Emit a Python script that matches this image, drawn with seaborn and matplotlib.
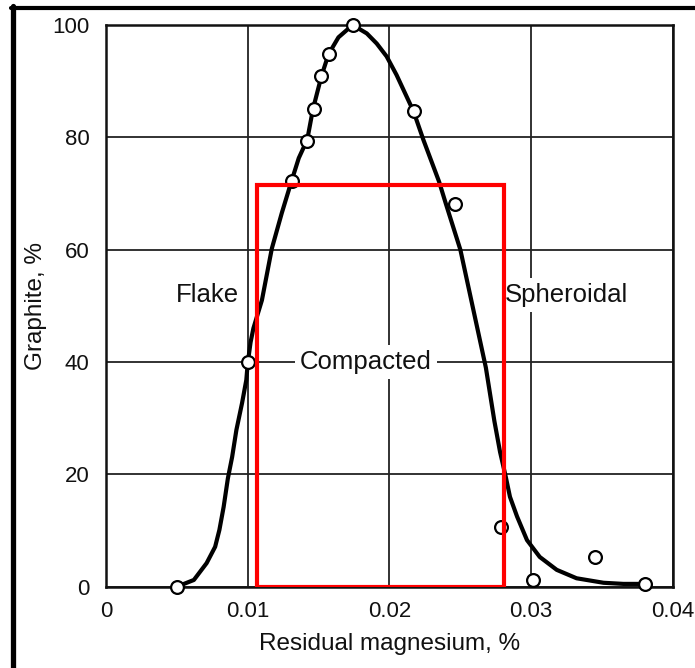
import matplotlib
matplotlib.use("Agg")
import matplotlib.pyplot as plt
import seaborn as sns
import pandas as pd
from matplotlib.lines import Line2D
from matplotlib.patches import Rectangle

# ---- data ----
point_mg = [0.0050, 0.0100, 0.0131, 0.0142, 0.0147, 0.0152, 0.0157, 0.0174,
            0.0217, 0.0246, 0.0279, 0.0301, 0.0345, 0.0380]
point_graphite = [0.0, 40.0, 72.2, 79.3, 85.0, 90.9, 94.8, 100.0,
                  84.6, 68.1, 10.6, 1.2, 5.2, 0.5]

curve_mg = [0.0050, 0.0062, 0.0071, 0.0077, 0.0080, 0.0083, 0.0086, 0.0089,
            0.0092, 0.0096, 0.0099, 0.0100, 0.0102, 0.0104, 0.0110, 0.0117,
            0.0124, 0.0131, 0.0136, 0.0142, 0.0146, 0.0152, 0.0157, 0.0164,
            0.0174, 0.0184, 0.0191, 0.0198, 0.0205, 0.0217, 0.0224, 0.0235,
            0.0240, 0.0250, 0.0256, 0.0262, 0.0268, 0.0274, 0.0278, 0.0282,
            0.0285, 0.0290, 0.0297, 0.0306, 0.0318, 0.0332, 0.0351, 0.0365,
            0.0379]
curve_graphite = [0.0, 1.2, 4.2, 7.1, 10.1, 14.2, 19.3, 23.1,
                  27.9, 32.7, 36.8, 39.8, 43.5, 46.0, 51.0, 60.2,
                  66.5, 72.3, 76.3, 79.6, 85.0, 90.9, 94.8, 97.8,
                  100.0, 98.5, 96.7, 94.4, 91.1, 84.6, 79.5, 72.1,
                  68.0, 60.0, 53.0, 46.0, 39.0, 29.5, 24.0, 19.6,
                  16.0, 12.5, 8.3, 5.3, 3.0, 1.5, 0.7, 0.5,
                  0.5]

compacted_range = [0.01067, 0.02808]
compacted_top = 71.6

x_ticks = [0.0, 0.01, 0.02, 0.03, 0.04]
x_tick_labels = ["0", "0.01", "0.02", "0.03", "0.04"]
y_ticks = [0, 20, 40, 60, 80, 100]
y_tick_labels = ["0", "20", "40", "60", "80", "100"]

region_labels = ["Flake", "Compacted", "Spheroidal"]
region_x = [0.00713, 0.01834, 0.0325]
region_y = [51.9, 40.0, 51.9]

# ---- styling ----
sns.set_style("white")
plt.rcParams["font.family"] = ["Liberation Sans", "DejaVu Sans"]
narrow = ["Liberation Sans Narrow", "DejaVu Sans Condensed", "Liberation Sans"]

fig = plt.figure(figsize=(6.95, 6.68), dpi=100)
ax = fig.add_axes([0.1525, 0.1217, 0.8158, 0.8409])

curve_df = pd.DataFrame({"mg": curve_mg, "graphite": curve_graphite})
pts_df = pd.DataFrame({"mg": point_mg, "graphite": point_graphite})

sns.lineplot(data=curve_df, x="mg", y="graphite", sort=False, estimator=None,
             color="black", lw=3.0, ax=ax, zorder=3)
for ln in ax.get_lines():
    ln.set_solid_joinstyle("round")
    ln.set_solid_capstyle("round")
sns.scatterplot(data=pts_df, x="mg", y="graphite", marker="o", s=85,
                facecolor="white", edgecolor="black", linewidth=1.6,
                ax=ax, zorder=4, clip_on=False)

ax.set_xlim(0, 0.04)
ax.set_ylim(0, 100)
ax.set_xticks(x_ticks)
ax.set_xticklabels(x_tick_labels)
ax.set_yticks(y_ticks)
ax.set_yticklabels(y_tick_labels)
for lab in ax.get_xticklabels() + ax.get_yticklabels():
    lab.set_family(narrow)
    lab.set_fontsize(16)
ax.tick_params(axis="x", length=0, pad=10, colors="#111111")
ax.tick_params(axis="y", length=0, pad=12, colors="#111111")

ax.grid(True, color="#222222", lw=1.3)
ax.set_axisbelow(True)
for sp in ax.spines.values():
    sp.set_visible(True)
    sp.set_color("#111111")
    sp.set_linewidth(1.8)

ax.set_xlabel("Residual magnesium, %", fontsize=17.5, labelpad=8, color="#111111")
ax.set_ylabel("Graphite, %", fontsize=17.5, labelpad=4, color="#111111")

for lbl, tx, ty in zip(region_labels, region_x, region_y):
    ax.text(tx, ty, lbl, fontsize=18.5, ha="center", va="center", color="#111111",
            zorder=2.5,
            bbox=dict(facecolor="white", edgecolor="none", pad=3.5))

rect = Rectangle((compacted_range[0], 0), compacted_range[1] - compacted_range[0],
                 compacted_top, fill=False, edgecolor="#ff0000", lw=3.0,
                 zorder=5)
ax.add_patch(rect)

# frame lines of the scanned figure
fig.add_artist(Line2D([0.0194, 0.0194], [0.0, 0.991], color="black", lw=3.8,
                      transform=fig.transFigure))
fig.add_artist(Line2D([0.0165, 1.0], [0.988, 0.988], color="black", lw=3.0,
                      transform=fig.transFigure))

fig.savefig("out.png", dpi=100)
